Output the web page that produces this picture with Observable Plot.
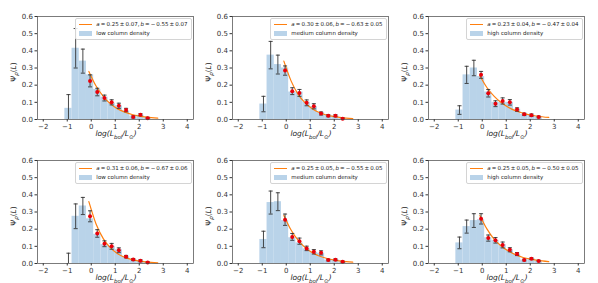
<!DOCTYPE html>
<html><head><meta charset="utf-8">
<script src="https://cdn.jsdelivr.net/npm/d3@7"></script>
<script src="https://cdn.jsdelivr.net/npm/@observablehq/plot@0.6"></script>
<style>
html,body{margin:0;padding:0;background:#fff;}
#fig{position:relative;width:598px;height:283px;font-family:"DejaVu Sans",sans-serif;color:#222;overflow:hidden;}
.panel{position:absolute;width:156px;height:103px;}
.panel svg{position:absolute;left:-30px;top:-5px;overflow:visible;max-width:none !important;width:191px !important;height:128px !important;}
.leg{position:absolute;right:1.5px;top:1.5px;border:0.8px solid #d4d4d4;border-radius:2px;background:rgba(255,255,255,0.85);padding:1.6px 3px 1.4px 3px;font-size:5.5px;line-height:8.7px;white-space:nowrap;color:#222;}
.leg .fit{word-spacing:-0.7px;}
.ln{display:inline-block;width:13px;height:0;border-top:1.2px solid #ff7f0e;vertical-align:middle;margin-right:4px;}
.patch{display:inline-block;width:13px;height:4.5px;background:#b9d3e9;vertical-align:middle;margin-right:4px;}
.xlab{position:absolute;left:1px;width:156px;top:113px;text-align:center;font-size:7.5px;font-style:italic;color:#222;line-height:9px;}
.xlab sub,.ylab sub{font-size:5.5px;}
.ylab{position:absolute;left:-23px;top:56px;transform:translate(-50%,-50%) rotate(-90deg);font-size:7.5px;white-space:nowrap;color:#222;}
</style></head>
<body><div id="fig"></div>
<script>
const xTicks = [-2, -1, 0, 1, 2, 3, 4];
const yTicks = [0, 0.1, 0.2, 0.3, 0.4, 0.5, 0.6];
const binEdges = [-1.1, -0.8, -0.5, -0.2, 0.1, 0.4, 0.7, 1.0, 1.3, 1.6, 1.9, 2.2, 2.5];
const errX = [-1.25, -0.95, -0.65, -0.35, -0.05, 0.25, 0.55, 0.85, 1.15, 1.45, 1.75, 2.05, 2.35, 3.25];
const curveX = [-0.1, 0.2, 0.5, 0.8, 1.1, 1.4, 1.7, 2.0, 2.3, 2.77];
const densityLabels = ["low column density", "medium column density", "high column density",
                       "low column density", "medium column density", "high column density"];
const aVal = ["0.25", "0.30", "0.23", "0.31", "0.25", "0.25"];
const aErr = ["0.07", "0.06", "0.04", "0.06", "0.05", "0.05"];
const bVal = ["0.55", "0.63", "0.47", "0.67", "0.55", "0.50"];
const bErr = ["0.07", "0.05", "0.04", "0.06", "0.05", "0.05"];

// histogram heights per bin
const hist1 = [0.065, 0.415, 0.34, 0.26, 0.175, 0.13, 0.095, 0.08, 0.05, 0.02, 0.025, 0.01];
const hist2 = [0.09, 0.375, 0.32, 0.30, 0.16, 0.16, 0.10, 0.075, 0.04, 0.025, 0.02, 0.005];
const hist3 = [0.055, 0.26, 0.30, 0.25, 0.16, 0.10, 0.10, 0.10, 0.06, 0.03, 0.025, 0.015];
const hist4 = [0, 0.275, 0.335, 0.26, 0.17, 0.11, 0.10, 0.08, 0.04, 0.022, 0.015, 0.005];
const hist5 = [0.14, 0.355, 0.36, 0.25, 0.15, 0.12, 0.085, 0.065, 0.06, 0.02, 0.022, 0.01];
const hist6 = [0.12, 0.215, 0.25, 0.255, 0.15, 0.135, 0.11, 0.08, 0.055, 0.02, 0.028, 0.015];

// error-bar values and half-widths (null = absent)
const val1 = [null, 0.065, 0.415, 0.34, 0.225, 0.16, 0.125, 0.10, 0.08, 0.055, 0.015, 0.028, 0.008, null];
const err1 = [null, 0.08, 0.115, 0.07, 0.035, 0.022, 0.017, 0.015, 0.015, 0.01, 0.006, 0.006, 0.005, null];
const val2 = [0, 0.09, 0.375, 0.32, 0.285, 0.165, 0.155, 0.097, 0.077, 0.035, 0.022, 0.022, 0.005, 0];
const err2 = [0, 0.045, 0.08, 0.055, 0.027, 0.02, 0.02, 0.017, 0.015, 0.009, 0.006, 0.006, 0.004, 0];
const val3 = [0, 0.055, 0.26, 0.30, 0.26, 0.153, 0.092, 0.108, 0.10, 0.058, 0.03, 0.025, 0.015, null];
const err3 = [0, 0.025, 0.05, 0.045, 0.02, 0.022, 0.017, 0.018, 0.016, 0.01, 0.007, 0.007, 0.005, null];
const val4 = [null, 0, 0.275, 0.335, 0.275, 0.175, 0.115, 0.10, 0.077, 0.04, 0.023, 0.016, 0.006, null];
const err4 = [null, 0.06, 0.072, 0.05, 0.032, 0.022, 0.017, 0.017, 0.014, 0.007, 0.006, 0.006, 0.004, null];
const val5 = [0, 0.14, 0.355, 0.36, 0.255, 0.155, 0.13, 0.088, 0.068, 0.062, 0.02, 0.022, 0.01, null];
const err5 = [0, 0.048, 0.067, 0.052, 0.033, 0.02, 0.018, 0.013, 0.013, 0.012, 0.005, 0.005, 0.004, null];
const val6 = [0, 0.12, 0.215, 0.25, 0.26, 0.148, 0.135, 0.108, 0.08, 0.055, 0.02, 0.028, 0.015, 0];
const err6 = [0, 0.034, 0.038, 0.04, 0.03, 0.018, 0.016, 0.017, 0.012, 0.009, 0.005, 0.005, 0.004, 0];

// fitted curve values read at curveX
const curve1 = [0.28, 0.195, 0.135, 0.091, 0.062, 0.043, 0.029, 0.020, 0.014, 0.008];
const curve2 = [0.34, 0.225, 0.145, 0.095, 0.061, 0.039, 0.025, 0.017, 0.011, 0.005];
const curve3 = [0.255, 0.185, 0.135, 0.097, 0.070, 0.050, 0.037, 0.026, 0.019, 0.012];
const curve4 = [0.36, 0.23, 0.145, 0.091, 0.057, 0.036, 0.023, 0.014, 0.009, 0.004];
const curve5 = [0.28, 0.195, 0.134, 0.091, 0.062, 0.042, 0.029, 0.020, 0.014, 0.008];
const curve6 = [0.28, 0.20, 0.14, 0.10, 0.071, 0.050, 0.035, 0.025, 0.018, 0.011];

const hists = [hist1, hist2, hist3, hist4, hist5, hist6];
const vals = [val1, val2, val3, val4, val5, val6];
const errs = [err1, err2, err3, err4, err5, err6];
const curves = [curve1, curve2, curve3, curve4, curve5, curve6];

const colLeft = [37, 232, 428];
const rowTop = [16, 160];
const fmtTick = d => d < 0 ? "\u2212" + (-d) : String(d);
const capHalf = 0.085;

const fig = document.getElementById("fig");
for (let i = 0; i < 6; i++) {
  const r = Math.floor(i / 3), c = i % 3;
  const bins = hists[i].map((h, k) => ({x1: binEdges[k], x2: binEdges[k + 1], y: h}));
  const ebars = errX.map((x, k) => ({x, v: vals[i][k], e: errs[i][k]})).filter(d => d.v != null);
  const caps = ebars.flatMap(d => [
    {x1: d.x - capHalf, x2: d.x + capHalf, y: d.v - d.e},
    {x1: d.x - capHalf, x2: d.x + capHalf, y: d.v + d.e}
  ]);
  const pts = ebars.filter(d => d.x > -0.2 && d.x < 3);
  const curve = curveX.map((x, k) => ({x, y: curves[i][k]}));

  const plot = Plot.plot({
    width: 191, height: 128,
    marginLeft: 30, marginRight: 5, marginTop: 5, marginBottom: 20,
    style: {fontSize: "7px", fontFamily: "DejaVu Sans", color: "#333", background: "transparent", overflow: "visible"},
    x: {domain: [-2.24, 4.26], ticks: xTicks, tickFormat: fmtTick, label: null, tickSize: 2.5, tickPadding: 2},
    y: {domain: [0, 0.6], ticks: yTicks, tickFormat: d => d.toFixed(1), label: null, tickSize: 2.5, tickPadding: 2},
    marks: [
      Plot.rectY(bins, {x1: "x1", x2: "x2", y: "y", fill: "#b9d3e9"}),
      Plot.line(curve, {x: "x", y: "y", stroke: "#ff7f0e", strokeWidth: 1.2, curve: "monotone-x"}),
      Plot.ruleX(ebars, {x: "x", y1: d => d.v - d.e, y2: d => d.v + d.e, stroke: "#333", strokeWidth: 0.9, clip: true}),
      Plot.link(caps, {x1: "x1", x2: "x2", y1: "y", y2: "y", stroke: "#333", strokeWidth: 0.9, clip: true}),
      Plot.dot(pts, {x: "x", y: "v", fill: "#e8000b", r: 2}),
      Plot.frame({stroke: "#444", strokeWidth: 0.7})
    ]
  });

  const panel = document.createElement("div");
  panel.className = "panel";
  panel.style.left = colLeft[c] + "px";
  panel.style.top = rowTop[r] + "px";
  panel.appendChild(plot);

  const leg = document.createElement("div");
  leg.className = "leg";
  leg.innerHTML = `<div class="fit"><span class="ln"></span><i>a</i> = ${aVal[i]} \u00b1 ${aErr[i]}, <i>b</i> = \u2212 ${bVal[i]} \u00b1 ${bErr[i]}</div>` +
                  `<div><span class="patch"></span>${densityLabels[i]}</div>`;
  panel.appendChild(leg);

  const xl = document.createElement("div");
  xl.className = "xlab";
  xl.innerHTML = "log(L<sub>bol</sub>/L<sub>\u2299</sub>)";
  panel.appendChild(xl);

  const yl = document.createElement("div");
  yl.className = "ylab";
  yl.innerHTML = "\u03a8<sub><i>\u03c1</i></sub>(<i>L</i>)";
  panel.appendChild(yl);

  fig.appendChild(panel);
}
</script></body></html>
